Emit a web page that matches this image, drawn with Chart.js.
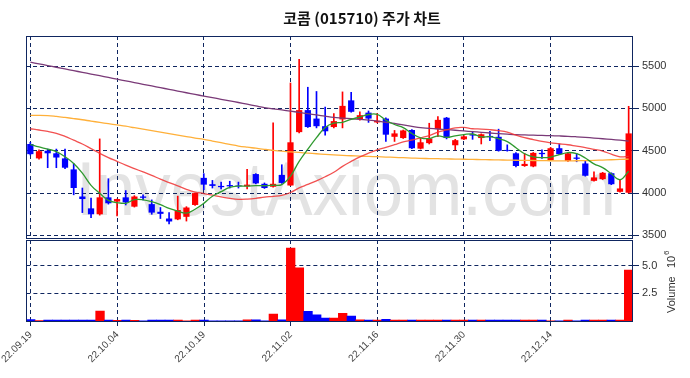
<!DOCTYPE html>
<html>
<head>
<meta charset="utf-8">
<script src="https://cdn.jsdelivr.net/npm/chart.js@4.4.0/dist/chart.umd.min.js"></script>
<style>
  html, body { margin: 0; padding: 0; background: #fff; }
  #wrap { position: relative; width: 690px; height: 378px; }
  #wrap canvas { position: absolute; left: 0; top: 0; }
</style>
</head>
<body>
<div id="wrap">
  <canvas id="price" width="690" height="378"></canvas>
  <canvas id="vol" width="690" height="378"></canvas>
</div>
<script>
// trading days shown on the chart
const dates = [
  "22.09.19","22.09.20","22.09.21","22.09.22","22.09.23","22.09.26","22.09.27","22.09.28","22.09.29","22.09.30",
  "22.10.04","22.10.05","22.10.06","22.10.07","22.10.11","22.10.12","22.10.13","22.10.14","22.10.17","22.10.18",
  "22.10.19","22.10.20","22.10.21","22.10.24","22.10.25","22.10.26","22.10.27","22.10.28","22.10.31","22.11.01",
  "22.11.02","22.11.03","22.11.04","22.11.07","22.11.08","22.11.09","22.11.10","22.11.11","22.11.14","22.11.15",
  "22.11.16","22.11.17","22.11.18","22.11.21","22.11.22","22.11.23","22.11.24","22.11.25","22.11.28","22.11.29",
  "22.11.30","22.12.01","22.12.02","22.12.05","22.12.06","22.12.07","22.12.08","22.12.09","22.12.12","22.12.13",
  "22.12.14","22.12.15","22.12.16","22.12.19","22.12.20","22.12.21","22.12.22","22.12.23","22.12.26","22.12.27"
];
const opens = [
  4580,4410,4500,4470,4410,4280,3960,3820,3750,3950,
  3900,3950,3840,3960,3870,3780,3700,3690,3720,3860,
  4180,4105,4085,4095,4090,4080,4225,4110,4075,4215,
  4090,4720,4980,4880,4790,4780,4870,5095,4875,4950,
  4835,4880,4665,4650,4745,4525,4590,4755,4890,4565,
  4635,4695,4650,4675,4665,4510,4470,4320,4315,4475,
  4390,4530,4380,4420,4350,4145,4165,4235,4015,4005
];
const highs = [
  4600,4510,4520,4520,4520,4350,4060,3940,4640,4170,
  3930,4030,3970,3980,3920,3830,3770,3965,3840,4000,
  4230,4150,4130,4140,4130,4280,4230,4120,4830,4335,
  5300,5580,5250,5200,5015,4940,5195,5190,4960,4970,
  4940,4890,4740,4745,4750,4650,4825,4905,4895,4635,
  4680,4730,4700,4730,4755,4570,4480,4470,4480,4510,
  4540,4575,4480,4470,4380,4250,4245,4240,4155,5025
];
const lows = [
  4450,4400,4300,4300,4290,3980,3770,3710,3740,3870,
  3730,3860,3835,3920,3750,3700,3635,3685,3670,3855,
  4040,4060,4050,4060,4060,4050,4110,4055,4070,4115,
  4090,4710,4775,4770,4685,4770,4770,4955,4860,4835,
  4830,4610,4610,4645,4525,4520,4580,4665,4640,4510,
  4630,4635,4580,4620,4495,4495,4310,4315,4310,4410,
  4385,4455,4375,4370,4200,4140,4160,4100,4010,4000
];
const closes = [
  4460,4495,4470,4420,4300,4060,3930,3750,3950,3880,
  3930,3890,3960,3945,3770,3755,3665,3800,3830,4000,
  4100,4085,4070,4080,4080,4100,4115,4060,4110,4120,
  4600,4980,4780,4790,4730,4850,5030,4960,4920,4880,
  4855,4690,4705,4740,4530,4600,4645,4865,4650,4625,
  4670,4680,4695,4660,4500,4500,4320,4345,4475,4460,
  4530,4460,4470,4405,4205,4185,4240,4105,4055,4705
];
// volume in millions of shares
const volumes = [
  0.12,0.03,0.08,0.08,0.08,0.08,0.08,0.08,0.90,0.08,
  0.07,0.08,0.07,0.02,0.08,0.08,0.08,0.08,0.02,0.08,
  0.08,0.02,0.02,0.02,0.02,0.10,0.10,0.02,0.62,0.10,
  6.60,4.80,0.88,0.55,0.27,0.27,0.70,0.45,0.10,0.08,
  0.08,0.15,0.08,0.08,0.08,0.08,0.08,0.08,0.08,0.08,
  0.08,0.08,0.08,0.08,0.08,0.08,0.08,0.08,0.08,0.08,
  0.01,0.01,0.08,0.01,0.08,0.08,0.08,0.08,0.08,4.60
];
const ma5 = [
  4575,4545,4520,4490,4429,4349,4236,4092,3998,3914,
  3888,3880,3922,3921,3899,3864,3819,3787,3764,3810,
  3879,3963,4017,4067,4083,4083,4089,4087,4093,4101,
  4201,4374,4518,4654,4776,4826,4836,4872,4898,4928,
  4929,4861,4810,4774,4704,4653,4644,4676,4658,4677,
  4691,4698,4664,4666,4641,4607,4535,4465,4428,4420,
  4426,4454,4479,4465,4414,4345,4301,4228,4158,4258
];
const ma20 = [
  4760,4745,4728,4706,4670,4625,4580,4525,4470,4420,
  4375,4330,4290,4250,4210,4165,4125,4085,4045,4013,
  3995,3975,3955,3938,3927,3929,3938,3953,3961,3973,
  4007,4061,4102,4145,4193,4247,4316,4374,4428,4472,
  4510,4540,4572,4605,4627,4652,4679,4719,4746,4771,
  4775,4760,4756,4749,4738,4720,4685,4654,4632,4611,
  4594,4583,4571,4554,4538,4517,4497,4459,4429,4433
];
const ma60 = [
  4917,4918,4915,4905,4893,4880,4866,4850,4835,4820,
  4805,4790,4772,4755,4738,4720,4702,4685,4668,4650,
  4635,4615,4595,4575,4556,4542,4530,4517,4505,4495,
  4488,4480,4472,4465,4458,4452,4446,4441,4437,4433,
  4430,4426,4422,4418,4414,4410,4408,4406,4404,4402,
  4400,4398,4396,4394,4392,4390,4388,4386,4385,4383,
  4382,4381,4381,4382,4384,4386,4390,4394,4398,4402
];
const ma120 = [
  5546,5526,5506,5486,5466,5446,5426,5406,5386,5366,
  5345,5325,5305,5285,5265,5245,5225,5205,5185,5165,
  5146,5127,5108,5089,5070,5050,5030,5010,4995,4982,
  4968,4953,4938,4923,4908,4894,4886,4878,4870,4862,
  4850,4836,4822,4805,4788,4772,4765,4757,4750,4742,
  4734,4726,4718,4710,4703,4696,4690,4687,4684,4681,
  4678,4675,4671,4665,4658,4650,4642,4634,4625,4615
];
const priceTicks = [3500, 4000, 4500, 5000, 5500];
const volTicks = [2.5, 5.0];

const NAVY = "#0f2660";
const UP = "#ff0000", DOWN = "#0000ff";
const candleColors = closes.map((c, i) => c > opens[i] ? UP : DOWN);
const bodies = opens.map((o, i) => [o, closes[i] === o ? o + 4 : closes[i]]);
const wicks = lows.map((l, i) => [l, highs[i]]);

const gridX = {
  offset: false,
  tickLength: 0,
  color: c => (c.index % 10 === 0 ? NAVY : "rgba(0,0,0,0)")
};

const framePlugin = {
  id: "frame",
  afterDraw(chart) {
    const a = chart.chartArea, ctx = chart.ctx;
    ctx.save();
    ctx.strokeStyle = NAVY;
    ctx.lineWidth = 1;
    ctx.strokeRect(Math.round(a.left) + 0.5, Math.round(a.top) + 0.5,
                   Math.round(a.right - a.left) - 1, Math.round(a.bottom - a.top));
    ctx.restore();
  }
};

const markPlugin = {
  id: "mark",
  beforeDraw(chart) {
    const ctx = chart.ctx;
    ctx.save();
    ctx.fillStyle = "#e3e3e3";
    ctx.font = '76px "Liberation Sans", Arial, sans-serif';
    ctx.textAlign = "center";
    ctx.textBaseline = "alphabetic";
    ctx.fillText("InvestAxiom.com", 346, 215, 540);
    ctx.fillStyle = "#111";
    ctx.font = '600 15px "Noto Sans CJK KR", sans-serif';
    ctx.textBaseline = "middle";
    ctx.fillText("코콤 (015710) 주가 차트", 362, 18);
    ctx.restore();
  }
};

const volLabelPlugin = {
  id: "volLabel",
  afterDraw(chart) {
    const ctx = chart.ctx;
    ctx.save();
    ctx.translate(675, 313);
    ctx.rotate(-Math.PI / 2);
    ctx.fillStyle = "#333";
    ctx.textAlign = "left";
    ctx.textBaseline = "alphabetic";
    ctx.font = '11px "Liberation Sans", Arial, sans-serif';
    ctx.fillText("Volume", 0, 0);
    ctx.fillText("10", 45, 0);
    ctx.font = '8px "Liberation Sans", Arial, sans-serif';
    ctx.fillText("6", 58, -6);
    ctx.restore();
  }
};

new Chart(document.getElementById("price"), {
  data: {
    labels: dates,
    datasets: [
      { type: "line", data: ma5, borderColor: "#2f9a2f", borderWidth: 1.3, pointRadius: 0, tension: 0.4, order: 0 },
      { type: "line", data: ma20, borderColor: "rgba(240,50,50,0.85)", borderWidth: 1.3, pointRadius: 0, tension: 0.4, order: 0 },
      { type: "line", data: ma60, borderColor: "#ffb03a", borderWidth: 1.3, pointRadius: 0, tension: 0.4, order: 0 },
      { type: "line", data: ma120, borderColor: "#7a3a78", borderWidth: 1.3, pointRadius: 0, tension: 0.4, order: 0 },
      { type: "bar", data: bodies, backgroundColor: candleColors, grouped: false,
        barPercentage: 0.72, categoryPercentage: 1, order: 1 },
      { type: "bar", data: wicks, backgroundColor: candleColors, grouped: false,
        barThickness: 1, order: 2 }
    ]
  },
  options: {
    responsive: false,
    animation: false,
    layout: { padding: { top: 36, bottom: 140, left: 26, right: 0 } },
    plugins: { legend: { display: false }, tooltip: { enabled: false } },
    scales: {
      x: {
        type: "category", offset: true,
        grid: gridX, border: { display: false, dash: [4, 3] },
        ticks: { display: false, autoSkip: false },
        afterFit: s => { s.height = 0; }
      },
      y: {
        position: "right", min: 3470, max: 5855,
        afterBuildTicks: s => { s.ticks = priceTicks.map(v => ({ value: v })); },
        afterFit: s => { s.width = 57; },
        grid: { color: NAVY, tickLength: 6 },
        border: { display: false, dash: [4, 3] },
        ticks: { color: "#333", padding: 3, font: { size: 11, family: '"Liberation Sans", Arial, sans-serif' },
                 callback: v => String(v) }
      }
    }
  },
  plugins: [markPlugin, framePlugin]
});

new Chart(document.getElementById("vol"), {
  type: "bar",
  data: {
    labels: dates,
    datasets: [
      { data: volumes, backgroundColor: candleColors, barPercentage: 1, categoryPercentage: 1 }
    ]
  },
  options: {
    responsive: false,
    animation: false,
    layout: { padding: { top: 240, bottom: 0, left: 26, right: 0 } },
    plugins: { legend: { display: false }, tooltip: { enabled: false } },
    scales: {
      x: {
        offset: true,
        grid: { offset: false, tickLength: 5, color: c => (c.index % 10 === 0 ? NAVY : "rgba(0,0,0,0)") },
        border: { display: false, dash: [4, 3] },
        ticks: {
          autoSkip: false, maxRotation: 45, minRotation: 45, color: "#444",
          font: { size: 10, family: '"Liberation Sans", Arial, sans-serif' },
          callback: (v, i) => (i % 10 === 0 ? dates[i] : "")
        },
        afterFit: s => { s.height = 57; }
      },
      y: {
        position: "right", min: 0, max: 7.32,
        afterBuildTicks: s => { s.ticks = volTicks.map(v => ({ value: v })); },
        afterFit: s => { s.width = 57; },
        grid: { color: NAVY, tickLength: 6 },
        border: { display: false, dash: [4, 3] },
        ticks: { color: "#333", padding: 3, font: { size: 11, family: '"Liberation Sans", Arial, sans-serif' },
                 callback: v => v.toFixed(1) }
      }
    }
  },
  plugins: [framePlugin, volLabelPlugin]
});
</script>
</body>
</html>
